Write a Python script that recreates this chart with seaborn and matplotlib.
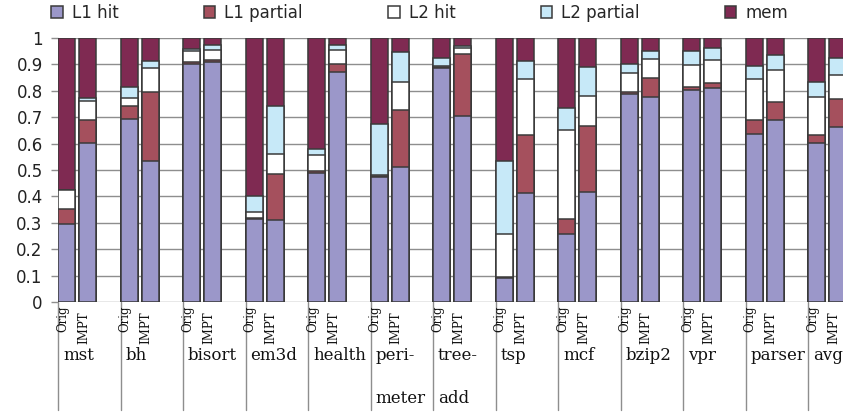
import matplotlib
matplotlib.use("Agg")
import matplotlib.pyplot as plt
from matplotlib.patches import Patch
import seaborn as sns
import pandas as pd

# ---------------- data ----------------
benchmarks = ["mst", "bh", "bisort", "em3d", "health", "peri-\nmeter", "tree-\nadd",
              "tsp", "mcf", "bzip2", "vpr", "parser", "avg"]
variants = ["Orig", "IMPT"]
series = ["L1 hit", "L1 partial", "L2 hit", "L2 partial", "mem"]

l1_hit_orig = [0.295, 0.695, 0.902, 0.314, 0.490, 0.475, 0.887, 0.090, 0.259, 0.786, 0.804, 0.638, 0.604]
l1_hit_impt = [0.603, 0.534, 0.908, 0.312, 0.871, 0.513, 0.705, 0.412, 0.416, 0.776, 0.810, 0.688, 0.661]
l1_part_orig = [0.057, 0.049, 0.008, 0.005, 0.005, 0.004, 0.005, 0.004, 0.055, 0.008, 0.010, 0.050, 0.028]
l1_part_impt = [0.085, 0.260, 0.009, 0.172, 0.031, 0.213, 0.235, 0.220, 0.250, 0.073, 0.020, 0.070, 0.109]
l2_hit_orig = [0.073, 0.027, 0.040, 0.021, 0.060, 0.001, 0.001, 0.165, 0.337, 0.073, 0.085, 0.155, 0.144]
l2_hit_impt = [0.072, 0.093, 0.038, 0.078, 0.053, 0.106, 0.022, 0.211, 0.115, 0.071, 0.085, 0.119, 0.091]
l2_part_orig = [0.000, 0.043, 0.007, 0.062, 0.024, 0.196, 0.032, 0.275, 0.085, 0.035, 0.053, 0.050, 0.057]
l2_part_impt = [0.011, 0.025, 0.020, 0.180, 0.020, 0.115, 0.008, 0.069, 0.111, 0.030, 0.047, 0.060, 0.064]
mem_orig = [0.575, 0.186, 0.043, 0.598, 0.421, 0.324, 0.075, 0.466, 0.264, 0.098, 0.048, 0.107, 0.167]
mem_impt = [0.229, 0.088, 0.025, 0.258, 0.025, 0.053, 0.030, 0.088, 0.108, 0.050, 0.038, 0.063, 0.075]

y_ticks = [0, 0.1, 0.2, 0.3, 0.4, 0.5, 0.6, 0.7, 0.8, 0.9, 1.0]
y_tick_labels = ["0", "0.1", "0.2", "0.3", "0.4", "0.5", "0.6", "0.7", "0.8", "0.9", "1"]

# ---------------- style ----------------
colors = {"L1 hit": "#9b97c9", "L1 partial": "#a5505d", "L2 hit": "#ffffff",
          "L2 partial": "#c7e9f8", "mem": "#7f2a52"}
edge = "#3a3a3a"
grid_c = "#8e8e8e"

sns.set_style("white")
plt.rcParams["font.family"] = ["DejaVu Sans"]

W, H = 843, 413
fig = plt.figure(figsize=(W / 100, H / 100), dpi=100)
y0_px, y1_px, x0_px = 302, 38, 58
group_px = 62.5
n = len(benchmarks)
ax = fig.add_axes([x0_px / W, 1 - y0_px / H, n * group_px / W, (y0_px - y1_px) / H])

slot = 3
offsets = [0.42, 1.42]
bar_w = 0.82

# build long table
values = {
    "L1 hit": (l1_hit_orig, l1_hit_impt),
    "L1 partial": (l1_part_orig, l1_part_impt),
    "L2 hit": (l2_hit_orig, l2_hit_impt),
    "L2 partial": (l2_part_orig, l2_part_impt),
    "mem": (mem_orig, mem_impt),
}
rows = []
for i, b in enumerate(benchmarks):
    for v, off in enumerate(offsets):
        cum = 0.0
        for s in series:
            cum += values[s][v][i]
            rows.append({"pos": i * slot + off, "series": s, "cum": cum})
df = pd.DataFrame(rows)

ax.set_axisbelow(True)
for s in reversed(series):
    sub = df[df["series"] == s]
    sns.barplot(data=sub, x="pos", y="cum", native_scale=True, width=bar_w,
                color=colors[s], saturation=1, edgecolor=edge, linewidth=1.1,
                errorbar=None, ax=ax, zorder=3)

ax.set_xlim(0, n * slot)
ax.set_ylim(0, 1)
ax.set_xlabel("")
ax.set_ylabel("")
ax.set_xticks([i * slot for i in range(n + 1)])
ax.set_xticklabels([])
ax.tick_params(axis="x", length=0)
ax.set_yticks(y_ticks)
ax.set_yticklabels(y_tick_labels, fontsize=12, color="#222222")
ax.tick_params(axis="y", length=5, width=1, color=grid_c, pad=6, left=True)
ax.grid(True, color=grid_c, linewidth=1.0, zorder=0)
for sp in ax.spines.values():
    sp.set_visible(False)

# separators below axis
xt = ax.get_xaxis_transform()
span = y0_px - y1_px
bottom_frac = -(410 - y0_px) / span
for i in range(n + 1):
    ax.plot([i * slot, i * slot], [0, bottom_frac], transform=xt, color=grid_c,
            linewidth=1.0, clip_on=False, zorder=1)

# variant labels and benchmark names
unit_px = group_px / slot
variant_top_px = [305, 311]
for i in range(n):
    for v, off in enumerate(offsets):
        ax.text(i * slot + off - 4 / unit_px, -(variant_top_px[v] - y0_px) / span,
                variants[v], transform=xt, rotation=90, ha="center", va="top",
                fontsize=8.5, family="DejaVu Serif", color="#111111")
    lines = benchmarks[i].split("\n")
    for k, line in enumerate(lines):
        ax.text(i * slot + 5 / unit_px, -(347 + 43 * k - y0_px) / span, line,
                transform=xt, ha="left", va="top", fontsize=12,
                family="DejaVu Serif", color="#111111")

handles = [Patch(facecolor=colors[s], edgecolor=edge, linewidth=1.1) for s in series]
fig.legend(handles, series, loc="center left", bbox_to_anchor=(51 / W, 1 - 13 / H),
           ncol=5, frameon=False, borderpad=0, borderaxespad=0, handlelength=0.7,
           handleheight=0.7, handletextpad=0.55, columnspacing=5.1, fontsize=12)

fig.savefig("out.png", dpi=100)
